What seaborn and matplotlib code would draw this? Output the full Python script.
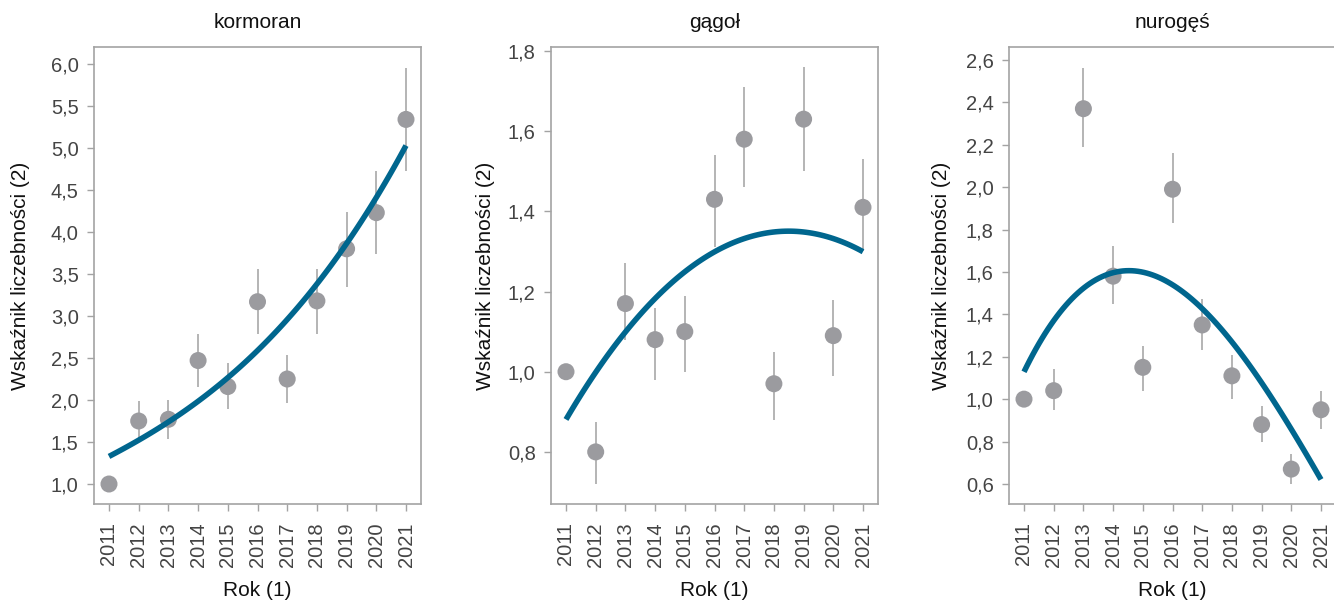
import numpy as np
import pandas as pd
import matplotlib
matplotlib.use("Agg")
import matplotlib.pyplot as plt
from matplotlib.ticker import FixedLocator, FuncFormatter
import seaborn as sns

# Years of the survey
years = [2011, 2012, 2013, 2014, 2015, 2016, 2017, 2018, 2019, 2020, 2021]

# Panel titles
species = ["kormoran", "gągoł", "nurogęś"]

# Index values (2011 = 1) with lower / upper uncertainty bounds
kormoran_idx = [1.00, 1.75, 1.77, 2.47, 2.16, 3.17, 2.25, 3.18, 3.80, 4.23, 5.34]
kormoran_lo = [1.00, 1.55, 1.54, 2.16, 1.89, 2.79, 1.96, 2.79, 3.34, 3.74, 4.72]
kormoran_hi = [1.00, 1.99, 2.00, 2.78, 2.44, 3.56, 2.53, 3.56, 4.24, 4.73, 5.95]
kormoran_trend = [1.33, 1.52, 1.74, 1.98, 2.27, 2.59, 2.96, 3.38, 3.86, 4.41, 5.03]

gagol_idx = [1.00, 0.80, 1.17, 1.08, 1.10, 1.43, 1.58, 0.97, 1.63, 1.09, 1.41]
gagol_lo = [1.00, 0.72, 1.08, 0.98, 1.00, 1.31, 1.46, 0.88, 1.50, 0.99, 1.30]
gagol_hi = [1.00, 0.875, 1.27, 1.16, 1.19, 1.54, 1.71, 1.05, 1.76, 1.18, 1.53]
gagol_trend = [0.88, 1.00, 1.10, 1.18, 1.25, 1.30, 1.33, 1.35, 1.35, 1.33, 1.30]

nuroges_idx = [1.00, 1.04, 2.37, 1.58, 1.15, 1.99, 1.35, 1.11, 0.88, 0.67, 0.95]
nuroges_lo = [1.00, 0.95, 2.19, 1.45, 1.04, 1.83, 1.23, 1.00, 0.80, 0.60, 0.86]
nuroges_hi = [1.00, 1.14, 2.56, 1.72, 1.25, 2.16, 1.47, 1.21, 0.97, 0.74, 1.04]
nuroges_trend = [1.15, 1.35, 1.50, 1.59, 1.62, 1.56, 1.44, 1.26, 1.06, 0.84, 0.64]

# Y tick positions per panel
kormoran_yticks = [1.0, 1.5, 2.0, 2.5, 3.0, 3.5, 4.0, 4.5, 5.0, 5.5, 6.0]
gagol_yticks = [0.8, 1.0, 1.2, 1.4, 1.6, 1.8]
nuroges_yticks = [0.6, 0.8, 1.0, 1.2, 1.4, 1.6, 1.8, 2.0, 2.2, 2.4, 2.6]

x_label = "Rok (1)"
y_label = "Wskaźnik liczebności (2)"

panels = [
    (species[0], kormoran_idx, kormoran_lo, kormoran_hi, kormoran_trend, kormoran_yticks, (0.762, 6.202)),
    (species[1], gagol_idx, gagol_lo, gagol_hi, gagol_trend, gagol_yticks, (0.67, 1.81)),
    (species[2], nuroges_idx, nuroges_lo, nuroges_hi, nuroges_trend, nuroges_yticks, (0.5054, 2.661)),
]

sns.set_theme(style="white")
plt.rcParams["font.family"] = ["Liberation Sans", "DejaVu Sans"]

POINT = "#9b9b9f"
LINE = "#00668e"
FRAME = "#a3a3a3"
TEXT = "#444444"

fig = plt.figure(figsize=(13.34, 6.03), dpi=100)
lefts = [94, 551, 1009]
ylabel_pads = [15, 9, 11]
W, H = 1334, 603
ax_w, ax_top, ax_bot = 327, 47, 504

for left, lpad, (name, idx, lo, hi, trend, yt, ylim) in zip(lefts, ylabel_pads, panels):
    ax = fig.add_axes([left / W, (H - ax_bot) / H, ax_w / W, (ax_bot - ax_top) / H])
    df = pd.DataFrame({
        "t": np.array(years) - years[0],
        "idx": idx, "lo": lo, "hi": hi, "trend": trend,
    })
    ax.vlines(df["t"], df["lo"], df["hi"], color="#a0a0a0", lw=1.1, zorder=2)
    sns.scatterplot(data=df, x="t", y="idx", s=150, color=POINT,
                    edgecolor="none", linewidth=0, zorder=3, ax=ax)
    sns.regplot(data=df, x="t", y="trend", order=3, scatter=False, ci=None,
                line_kws={"color": LINE, "lw": 4.0, "zorder": 4,
                          "solid_capstyle": "butt"}, ax=ax)

    ax.set_xlim(-0.505, 10.505)
    ax.set_ylim(*ylim)
    ax.xaxis.set_major_locator(FixedLocator(df["t"].tolist()))
    ax.set_xticklabels([str(y) for y in years], rotation=90)
    ax.yaxis.set_major_locator(FixedLocator(yt))
    ax.yaxis.set_major_formatter(FuncFormatter(lambda v, p: f"{v:.1f}".replace(".", ",")))

    for sp in ax.spines.values():
        sp.set_visible(True)
        sp.set_color(FRAME)
        sp.set_linewidth(1.2)
    ax.tick_params(axis="both", which="major", direction="out", length=5,
                   width=1.0, color=FRAME, labelcolor=TEXT, labelsize=14.5,
                   bottom=True, left=True)
    ax.tick_params(axis="x", pad=8)
    ax.tick_params(axis="y", pad=6)
    ax.grid(False)

    ax.set_title(name, fontsize=15, color="#111111", pad=14)
    ax.set_xlabel(x_label, fontsize=15, color="#111111", labelpad=10)
    ax.set_ylabel(y_label, fontsize=15, color="#111111", labelpad=lpad)

fig.savefig("out.png", dpi=100, facecolor="white")
